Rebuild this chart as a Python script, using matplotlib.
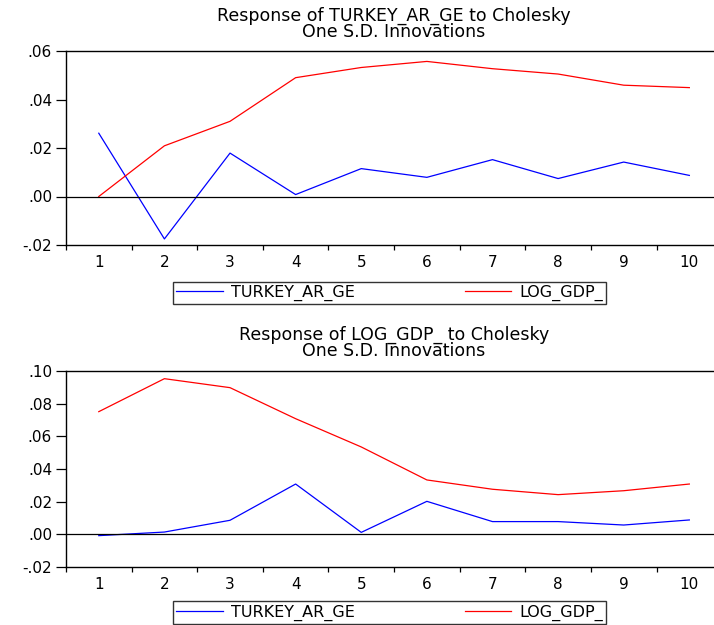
import matplotlib
matplotlib.use('Agg')
from matplotlib import pyplot as plt
from matplotlib.ticker import FuncFormatter, FixedLocator

plt.rcParams['font.family'] = ['DejaVu Sans']

periods = [1, 2, 3, 4, 5, 6, 7, 8, 9, 10]

# response of TURKEY_AR_GE
turkey_to_turkey = [0.0261, -0.0175, 0.0179, 0.0008, 0.0115, 0.0079, 0.0152, 0.0074, 0.0142, 0.0087]
turkey_to_gdp = [0.0, 0.0209, 0.0310, 0.0490, 0.0532, 0.0557, 0.0527, 0.0505, 0.0459, 0.0449]

# response of LOG_GDP_
gdp_to_turkey = [-0.0008, 0.0014, 0.0086, 0.0308, 0.0012, 0.0202, 0.0078, 0.0078, 0.0057, 0.0088]
gdp_to_gdp = [0.0751, 0.0953, 0.0898, 0.0708, 0.0535, 0.0333, 0.0276, 0.0243, 0.0267, 0.0308]

series_names = ['TURKEY_AR_GE', 'LOG_GDP_']
titles = ['Response of TURKEY_AR_GE to Cholesky\nOne S.D. Innovations',
          'Response of LOG_GDP_ to Cholesky\nOne S.D. Innovations']
ylims = [(-0.02, 0.06), (-0.02, 0.10)]
yticks = [[-0.02, 0.0, 0.02, 0.04, 0.06], [-0.02, 0.0, 0.02, 0.04, 0.06, 0.08, 0.10]]


def fmtTick(v, pos):
    s = '%.2f' % v
    if s.startswith('-0'):
        return '-' + s[2:]
    if s.startswith('0'):
        return s[1:]
    return s


fig = plt.figure(figsize=(7.14, 6.25), dpi=100)

# [left, bottom, width, height] in figure fraction
positions = [[0.0924, 0.608, 0.919, 0.3104],
             [0.0924, 0.0928, 0.919, 0.3136]]
# legend boxes (x0, y0, w, h) in figure fraction
legend_boxes = [(0.2423, 0.515, 0.6064, 0.032),
                (0.2423, 0.0048, 0.6064, 0.0304)]
title_pad = [10, 11]

data = [(turkey_to_turkey, turkey_to_gdp), (gdp_to_turkey, gdp_to_gdp)]

for i in range(2):
    ax = fig.add_axes(positions[i])
    blue, red = data[i]
    ax.plot(periods, blue, color='#0000ff', lw=0.9, label=series_names[0])
    ax.plot(periods, red, color='#ff0000', lw=0.9, label=series_names[1])
    ax.axhline(0, color='black', lw=0.9)

    ax.set_xlim(0.5, 10.5)
    ax.set_ylim(*ylims[i])
    ax.set_yticks(yticks[i])
    ax.yaxis.set_major_formatter(FuncFormatter(fmtTick))

    # labels at integers, tick marks at the boundaries
    ax.set_xticks(periods)
    ax.xaxis.set_minor_locator(FixedLocator([p + 0.5 for p in range(0, 11)]))
    ax.tick_params(axis='x', which='major', length=0, pad=7, labelsize=11)
    ax.tick_params(axis='x', which='minor', length=3.5, width=0.9, direction='out')
    ax.tick_params(axis='y', length=7, width=0.9, direction='out', labelsize=11, pad=3)

    for side in ['left', 'top', 'bottom', 'right']:
        ax.spines[side].set_linewidth(1.0)

    ax.set_title(titles[i], fontsize=12.5, linespacing=0.85, pad=title_pad[i])

    leg = fig.legend(handles=ax.get_lines()[:2], loc='center',
                     bbox_to_anchor=legend_boxes[i], mode='expand', ncol=2,
                     frameon=True, fancybox=False, fontsize=11.5,
                     handlelength=2.9, handletextpad=0.5, columnspacing=1.7,
                     borderpad=0.2, borderaxespad=0)
    leg.get_frame().set_edgecolor('black')
    leg.get_frame().set_linewidth(1.0)

fig.savefig('out.png', dpi=100)
